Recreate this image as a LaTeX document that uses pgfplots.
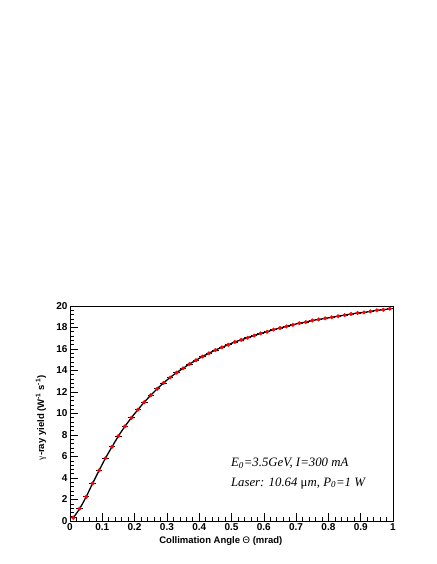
\documentclass[border=0pt]{standalone}
\usepackage{fontspec}
\setmainfont{Liberation Sans}
\newfontfamily\timesfont{Liberation Serif}
\usepackage{pgfplots}
\usepackage{pgfplotstable}
\pgfplotsset{compat=1.18}

% collimation angle (mrad) vs gamma-ray yield (x10^6 per W per s)
\pgfplotstableread{
theta yield
0.01 0.30
0.03 1.15
0.05 2.25
0.07 3.50
0.09 4.70
0.11 5.85
0.13 6.90
0.15 7.90
0.17 8.80
0.19 9.60
0.21 10.35
0.23 11.05
0.25 11.70
0.27 12.30
0.29 12.85
0.31 13.35
0.33 13.80
0.35 14.20
0.37 14.60
0.39 14.95
0.41 15.30
0.43 15.60
0.45 15.90
0.47 16.15
0.49 16.40
0.51 16.65
0.53 16.85
0.55 17.05
0.57 17.25
0.59 17.45
0.61 17.60
0.63 17.80
0.65 17.95
0.67 18.10
0.69 18.25
0.71 18.40
0.73 18.50
0.75 18.65
0.77 18.75
0.79 18.85
0.81 18.95
0.83 19.05
0.85 19.15
0.87 19.25
0.89 19.35
0.91 19.40
0.93 19.50
0.95 19.60
0.97 19.65
0.99 19.75
}\yielddata

\begin{document}
\begin{tikzpicture}
\begin{axis}[
    scale only axis,
    width=323pt,
    height=215pt,
    xmin=0, xmax=1,
    ymin=0, ymax=20,
    xtick={0,0.1,...,1.0},
    ytick={0,2,...,20},
    minor x tick num=4,
    minor y tick num=4,
    tick pos=left,
    tick align=inside,
    major tick length=8pt,
    minor tick length=4pt,
    axis line style={line width=0.8pt},
    tick style={black, line width=0.6pt},
    scaled ticks=false,
    /pgf/number format/assume math mode=true,
    tick label style={font=\fontsize{10}{12}\selectfont\bfseries},
    xticklabel style={yshift=1pt},
    yticklabel style={xshift=1pt},
    xlabel={Collimation Angle {\mdseries Θ} (mrad)},
    ylabel={{\mdseries\timesfont γ}-ray yield (W\textsuperscript{-1} s\textsuperscript{-1})},
    label style={font=\fontsize{9.5}{11}\selectfont\bfseries},
    xlabel style={at={(axis description cs:0.467,-0.095)}, anchor=center},
    ylabel style={at={(axis description cs:-0.09,0.48)}, anchor=center},
]
\addplot[black, line width=1.3pt, smooth, no marks] table[x=theta, y=yield] {\yielddata};
\addplot[only marks, mark=*, mark size=1.8pt, color=red,
    error bars/.cd, x dir=both, x fixed=0.01, error mark=none,
    error bar style={black, line width=0.7pt}]
    table[x=theta, y=yield] {\yielddata};
\node[anchor=south west, inner sep=1pt, font=\fontsize{8}{9}\selectfont]
    at (rel axis cs:0,1) {×10\textsuperscript{6}};
\node[anchor=base west, inner sep=0pt, font=\fontsize{12.8}{14}\selectfont\timesfont\itshape]
    at (axis cs:0.498,5.05) {E\textsubscript{0}=3.5GeV, I=300 mA};
\node[anchor=base west, inner sep=0pt, font=\fontsize{12.8}{14}\selectfont\timesfont\itshape]
    at (axis cs:0.498,3.25) {Laser: 10.64 {\upshape μ}m, P\textsubscript{0}=1 W};
\end{axis}
\path (current axis.south west) +(-70pt,-43pt)
      (current axis.north east) +(43pt,306pt);
\end{tikzpicture}
\end{document}
